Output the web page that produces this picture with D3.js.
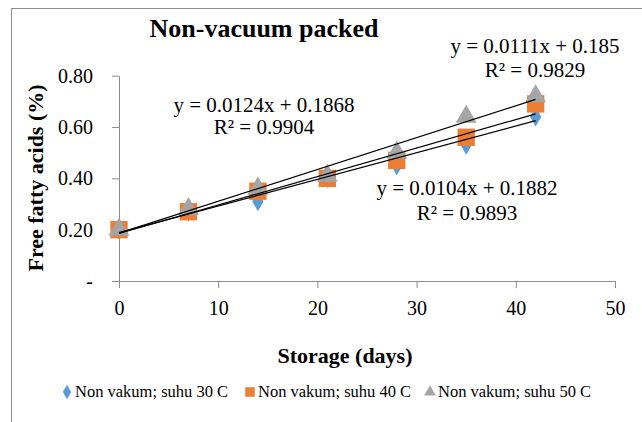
<!DOCTYPE html>
<html>
<head>
<meta charset="utf-8">
<script src="https://cdn.jsdelivr.net/npm/d3@7"></script>
<style>
  body { margin: 0; background: #fff; }
  svg text { font-family: "Liberation Serif", "Times New Roman", serif !important; fill: #000; }
</style>
</head>
<body>
<div id="chart"></div>
<script>
var width = 642, height = 422;

// storage days and free fatty acid values
var days = [0, 7, 14, 21, 28, 35, 42];
var suhu30 = [0.20, 0.27, 0.31, 0.40, 0.45, 0.53, 0.64];
var suhu40 = [0.20, 0.27, 0.35, 0.40, 0.47, 0.56, 0.69];
var suhu50 = [0.20, 0.28, 0.36, 0.41, 0.50, 0.64, 0.72];
var seriesNames = ["Non vakum; suhu 30 C", "Non vakum; suhu 40 C", "Non vakum; suhu 50 C"];

// linear trendlines as printed on the chart
var slopes = [0.0104, 0.0111, 0.0124];
var intercepts = [0.1882, 0.185, 0.1868];
var equations = ["y = 0.0104x + 0.1882", "y = 0.0111x + 0.185", "y = 0.0124x + 0.1868"];
var rSquared = ["R² = 0.9893", "R² = 0.9829", "R² = 0.9904"];

var xTicks = [0, 10, 20, 30, 40, 50];
var yTicks = [0, 0.2, 0.4, 0.6, 0.8];

var colors = ["#5B9BD5", "#ED7D31", "#A5A5A5"];
var shapes = [d3.symbolDiamond, d3.symbolSquare, d3.symbolTriangle];
var sizes = [110, 300, 190];
var serif = "'Liberation Serif', 'Times New Roman', serif";

var svg = d3.select("#chart").append("svg")
  .attr("width", width)
  .attr("height", height)
  .attr("font-family", serif);

// outer chart frame (runs past the picture on right and bottom)
svg.append("rect")
  .attr("x", 11.5).attr("y", 8.5)
  .attr("width", 700).attr("height", 500)
  .attr("fill", "none").attr("stroke", "#8c8c8c").attr("stroke-width", 1);

var x = d3.scaleLinear().domain([0, 50]).range([119, 615]);
var y = d3.scaleLinear().domain([0, 0.8]).range([281, 75.7]);

var xAxis = svg.append("g")
  .attr("transform", "translate(0,281)")
  .call(d3.axisBottom(x).tickValues(xTicks).tickSize(7).tickSizeOuter(0).tickPadding(13));
var yAxis = svg.append("g")
  .attr("transform", "translate(119,0)")
  .call(d3.axisLeft(y).tickValues(yTicks).tickSize(7).tickSizeOuter(0).tickPadding(19)
    .tickFormat(function(d) { return d === 0 ? "-" : d.toFixed(2); }));

[xAxis, yAxis].forEach(function(a) {
  a.attr("font-family", serif);
  a.selectAll("path, line").attr("stroke", "#8c8c8c");
  a.selectAll("text")
    .style("font-family", serif)
    .style("font-size", "20px")
    .attr("fill", "#000");
});

// markers
var allSeries = [suhu30, suhu40, suhu50];
allSeries.forEach(function(vals, s) {
  svg.append("g").selectAll("path")
    .data(days)
    .enter().append("path")
    .attr("d", d3.symbol().type(shapes[s]).size(sizes[s]))
    .attr("transform", function(d, i) { return "translate(" + x(d) + "," + y(vals[i]) + ")"; })
    .attr("fill", colors[s]);
});

// trendlines on top
slopes.forEach(function(m, s) {
  svg.append("line")
    .attr("x1", x(0)).attr("y1", y(intercepts[s]))
    .attr("x2", x(42)).attr("y2", y(intercepts[s] + m * 42))
    .attr("stroke", "#000").attr("stroke-width", 1.2);
});

// equation labels
var eqPos = [[467, 195, 220], [535, 53, 77], [264, 112, 134]];
equations.forEach(function(t, s) {
  svg.append("text").attr("x", eqPos[s][0]).attr("y", eqPos[s][1])
    .attr("text-anchor", "middle").style("font-size", "21px").text(t);
  svg.append("text").attr("x", eqPos[s][0]).attr("y", eqPos[s][2])
    .attr("text-anchor", "middle").style("font-size", "21px").text(rSquared[s]);
});

// title and axis titles
svg.append("text").attr("x", 264).attr("y", 37)
  .attr("text-anchor", "middle").style("font-size", "26px").style("font-weight", "bold")
  .text("Non-vacuum packed");

svg.append("text").attr("x", 345).attr("y", 363)
  .attr("text-anchor", "middle").style("font-size", "22px").style("font-weight", "bold")
  .text("Storage (days)");

svg.append("text")
  .attr("transform", "translate(43,178) rotate(-90)")
  .attr("text-anchor", "middle").style("font-size", "22px").style("font-weight", "bold")
  .text("Free fatty acids (%)");

// legend
var legX = [67, 250, 430];
seriesNames.forEach(function(n, s) {
  svg.append("path")
    .attr("d", d3.symbol().type(shapes[s]).size(s === 1 ? 90 : 60))
    .attr("transform", "translate(" + legX[s] + ",392)")
    .attr("fill", colors[s]);
  svg.append("text").attr("x", legX[s] + 8).attr("y", 397)
    .style("font-size", "16.5px").text(n);
});
</script>
</body>
</html>
